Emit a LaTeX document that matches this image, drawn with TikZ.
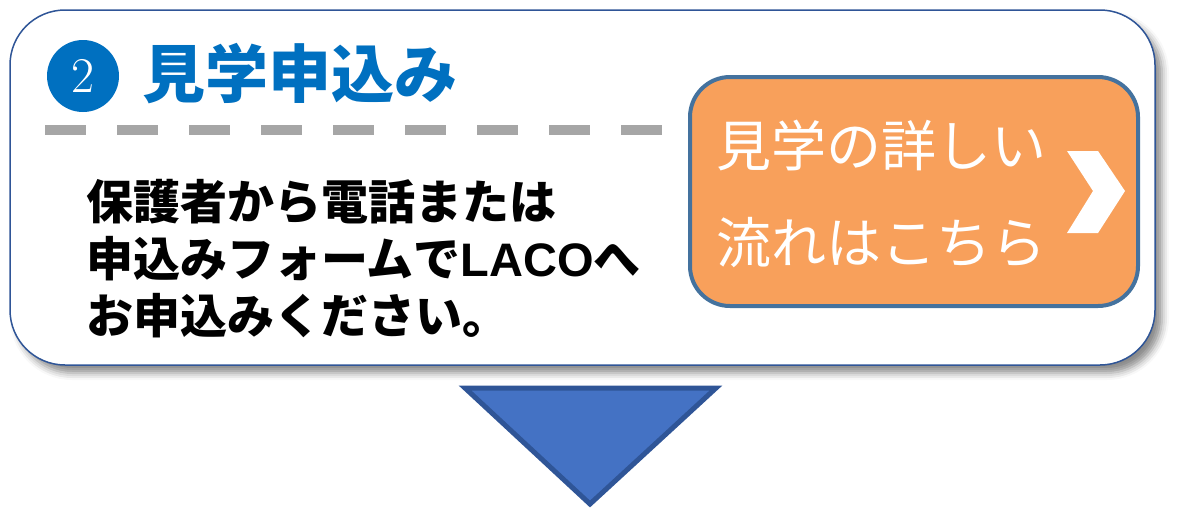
\documentclass[tikz,border=0pt]{standalone}
\usepackage{fontspec}
\usepackage{tikz}
\usetikzlibrary{shadows.blur}
\newfontfamily\jpfont{Noto Sans CJK JP}
\newfontfamily\latinfont{Liberation Sans Bold}
\definecolor{titleblue}{HTML}{0070C0}
\definecolor{panelline}{HTML}{2F5597}
\definecolor{btnfill}{HTML}{F8A05B}
\definecolor{btnline}{HTML}{44729E}
\definecolor{dashgray}{HTML}{A6A6A6}
\definecolor{arrowfill}{HTML}{4472C4}
\definecolor{arrowline}{HTML}{2F5597}

\begin{document}
\begin{tikzpicture}[x=1pt, y=-1pt,
        panel/.style={draw=panelline, line width=1.5pt, fill=white, rounded corners=55pt,
            blur shadow={shadow xshift=7pt, shadow yshift=-8pt, shadow blur radius=7pt, shadow opacity=45}},
        button/.style={draw=btnline, line width=4pt, fill=btnfill, rounded corners=40pt},
        bodytext/.style={font=\jpfont\bfseries\fontsize{47}{57}\selectfont, align=left, inner sep=0pt}]
        \useasboundingbox (0,0) rectangle (1185,509);
        % main panel
        \node[panel, minimum width=1145pt, minimum height=355pt] (panel) at (582.5,187.5) {};
        % step number and title
        \node[circle, fill=titleblue, minimum size=72pt, inner sep=0pt, text=white,
            font=\rmfamily\fontsize{50}{50}\selectfont] (num) at (83,76) {2};
        \node[anchor=west, inner sep=0pt, text=titleblue, font=\jpfont\bfseries\fontsize{63}{63}\selectfont] (title) at (142,74) {見学申込み};
        \draw[dashgray, line width=10pt, dash pattern=on 41pt off 31pt] (45,130) -- (663,130);
        % body text
        \node[bodytext, anchor=west] (body) at (86,259) {保護者から電話または\\申込みフォームで{\latinfont\mdseries LACO}へ\\お申込みください。};
        % button
        \node[button, minimum width=448pt, minimum height=229pt] (btn) at (914,191.5) {};
        \node[anchor=west, inner sep=0pt, align=left, text=white, font=\jpfont\fontsize{55}{97}\selectfont] (btntext) at (716,194) {見学の詳しい\\流れはこちら};
        \fill[white] (1067,151) -- (1098,151) -- (1125,191) -- (1098,233) -- (1067,233) -- (1093,191) -- cycle;
        % arrow down
        \coordinate (tl) at (465,388);
        \coordinate (tr) at (716,388);
        \coordinate (tip) at (590,504);
        \filldraw[fill=arrowfill, draw=arrowline, line width=5pt, line join=miter] (tl) -- (tr) -- (tip) -- cycle;
\end{tikzpicture}
\end{document}
